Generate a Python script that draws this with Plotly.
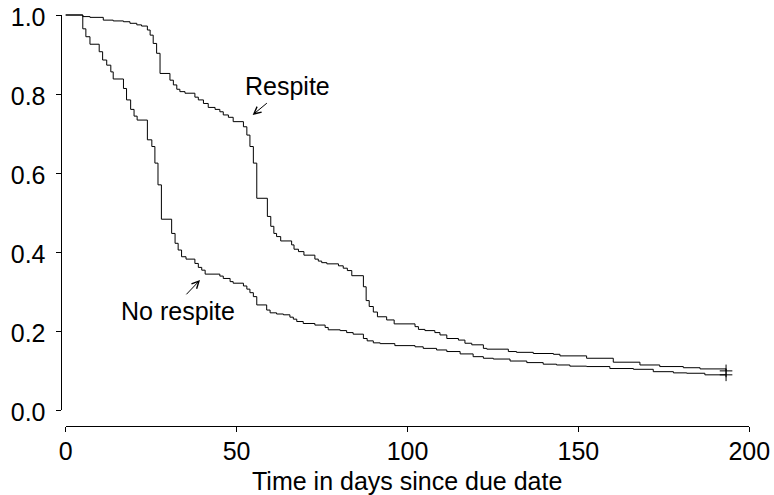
import plotly.graph_objects as go

# ---------------- data ----------------
no_respite_time = [0, 5.0, 5.9, 7.1, 9.8, 10.8, 12.0, 13.2, 13.9, 16.9, 17.8, 19.0, 20.0, 20.9,
                   23.9, 25.2, 26.1, 27.0, 28.0, 31.0, 32.0, 32.9, 33.9, 35.2, 37.8, 38.8, 39.8,
                   40.8, 45.1, 46.1, 48.1, 49.0, 52.0, 53.0, 53.9, 54.9, 55.9, 58.8, 59.8, 61.7,
                   63.7, 65.6, 66.6, 67.6, 69.5, 72.9, 75.9, 76.8, 80.3, 82.2, 84.1, 87.1, 88.2,
                   90.0, 92.0, 96.3, 102.2, 104.6, 108.5, 111.5, 115.4, 119.2, 122.2, 125.1,
                   130.0, 134.9, 139.7, 143.6, 147.5, 152.4, 159.2, 166.1, 171.9, 177.8, 181.7,
                   187.0, 193.2]
no_respite_surv = [1.0, 0.965, 0.945, 0.926, 0.907, 0.886, 0.873, 0.856, 0.838, 0.814, 0.785,
                   0.761, 0.744, 0.734, 0.684, 0.667, 0.625, 0.57, 0.483, 0.447, 0.422, 0.405,
                   0.388, 0.382, 0.371, 0.361, 0.354, 0.344, 0.339, 0.333, 0.325, 0.321, 0.314,
                   0.306, 0.297, 0.287, 0.266, 0.253, 0.246, 0.243, 0.241, 0.235, 0.23, 0.224,
                   0.219, 0.215, 0.209, 0.203, 0.201, 0.196, 0.192, 0.181, 0.175, 0.17, 0.168,
                   0.163, 0.16, 0.156, 0.152, 0.148, 0.142, 0.135, 0.131, 0.129, 0.124, 0.12,
                   0.116, 0.114, 0.111, 0.11, 0.105, 0.103, 0.097, 0.094, 0.093, 0.089, 0.089]

respite_time = [0, 5.0, 7.1, 11.0, 13.9, 16.9, 18.8, 20.8, 22.2, 23.9, 24.7, 25.6, 26.6, 27.6,
                30.5, 31.5, 32.5, 33.4, 34.9, 37.8, 38.8, 40.3, 41.7, 43.7, 45.1, 46.1, 47.6,
                49.0, 52.0, 53.0, 53.9, 54.9, 55.9, 59.0, 60.0, 60.9, 61.7, 62.9, 66.1, 66.8,
                68.1, 69.7, 72.9, 73.9, 74.9, 76.4, 79.8, 81.2, 82.4, 83.7, 87.1, 87.9, 88.8,
                90.0, 91.2, 93.9, 96.1, 102.2, 103.2, 105.1, 108.0, 109.5, 111.5, 114.9, 116.8,
                118.8, 122.2, 123.2, 129.5, 131.9, 136.8, 142.7, 144.6, 152.4, 160.2, 168.0,
                173.8, 180.7, 185.6, 193.2]
respite_surv = [1.0, 0.996, 0.994, 0.987, 0.985, 0.983, 0.979, 0.975, 0.972, 0.962, 0.949,
                0.928, 0.903, 0.852, 0.835, 0.823, 0.812, 0.806, 0.802, 0.792, 0.785, 0.776,
                0.766, 0.761, 0.755, 0.747, 0.741, 0.73, 0.717, 0.696, 0.667, 0.625, 0.536,
                0.49, 0.465, 0.447, 0.439, 0.428, 0.418, 0.407, 0.401, 0.392, 0.382, 0.377,
                0.373, 0.37, 0.365, 0.359, 0.353, 0.34, 0.312, 0.277, 0.262, 0.248, 0.236,
                0.228, 0.218, 0.211, 0.204, 0.201, 0.196, 0.19, 0.181, 0.177, 0.169, 0.165,
                0.156, 0.154, 0.148, 0.146, 0.143, 0.141, 0.137, 0.131, 0.121, 0.114, 0.11,
                0.107, 0.104, 0.099]

censor_time = [193.2, 193.2]
censor_surv = [respite_surv[-1], no_respite_surv[-1]]

x_ticks = [0, 50, 100, 150, 200]
x_tick_labels = ["0", "50", "100", "150", "200"]
y_ticks = [0.0, 0.2, 0.4, 0.6, 0.8, 1.0]
y_tick_labels = ["0.0", "0.2", "0.4", "0.6", "0.8", "1.0"]

# ---------------- layout geometry ----------------
# page pixels; the page body margin is removed by the post script below
OFF = 0
W, H = 774 - OFF, 495 - OFF
ML, MR, MT, MB = 48, 12, 10, 67
PW, PH = W - ML - MR, H - MT - MB
X0PX, X200PX = 65.7, 749.3      # page pixel of day 0 / day 200
Y0PX, Y1PX = 410.0, 15.0        # page pixel of survival 0 / 1
XAXIS_PX = 425.7                # page row of the x axis line
YAXIS_PX = 60.5                 # page column of the y axis line
pxd = (X200PX - X0PX) / 200.0
pys = (Y0PX - Y1PX) / 1.0


def fx(px):
    return (px - OFF - ML) / PW


def fy(py):
    return (H - MB - (py - OFF)) / PH


XR = [-3, 203]
YR = [-0.02, 1.01]
x_dom = [fx(X0PX + XR[0] * pxd), fx(X0PX + XR[1] * pxd)]
y_dom = [fy(Y0PX - YR[0] * pys), fy(Y0PX - YR[1] * pys)]

FONT = "Liberation Sans, Arial, Helvetica, sans-serif"
FS = 25

fig = go.Figure()
fig.add_trace(go.Scatter(x=respite_time, y=respite_surv, mode="lines",
                         line=dict(color="black", width=1, shape="hv"),
                         showlegend=False, hoverinfo="skip"))
fig.add_trace(go.Scatter(x=no_respite_time, y=no_respite_surv, mode="lines",
                         line=dict(color="black", width=1, shape="hv"),
                         showlegend=False, hoverinfo="skip"))
fig.add_trace(go.Scatter(x=censor_time, y=censor_surv, mode="markers",
                         marker=dict(symbol="cross-thin", size=9,
                                     line=dict(color="black", width=1)),
                         showlegend=False, hoverinfo="skip", cliponaxis=False))
fig.add_trace(go.Scatter(x=[None], y=[None], xaxis="x2", yaxis="y2",
                         showlegend=False, hoverinfo="skip"))

hidden = dict(showline=False, showgrid=False, zeroline=False, showticklabels=False,
              ticks="", automargin=False)
fig.update_layout(
    width=W, height=H,
    margin=dict(l=ML, r=MR, t=MT, b=MB, autoexpand=False),
    paper_bgcolor="white", plot_bgcolor="rgba(0,0,0,0)",
    font=dict(family=FONT, size=FS, color="black"),
    xaxis=dict(range=XR, domain=x_dom, anchor="y", **hidden),
    yaxis=dict(range=YR, domain=y_dom, anchor="x", **hidden),
    xaxis2=dict(range=[0, 200], domain=[fx(X0PX), fx(X200PX)], anchor="free",
                position=fy(XAXIS_PX), showline=True, linecolor="black", linewidth=1,
                ticks="outside", ticklen=5, tickwidth=1, tickcolor="black",
                tickvals=x_ticks, ticktext=x_tick_labels, showgrid=False, zeroline=False,
                tickfont=dict(family=FONT, size=FS, color="black"),
                ticklabelstandoff=-2, ticklabeloverflow="allow", automargin=False),
    yaxis2=dict(range=[0, 1], domain=[fy(Y0PX), fy(Y1PX)], anchor="free",
                position=fx(YAXIS_PX), showline=True, linecolor="black", linewidth=1,
                ticks="outside", ticklen=5, tickwidth=1, tickcolor="black",
                tickvals=y_ticks, ticktext=y_tick_labels, showgrid=False, zeroline=False,
                tickfont=dict(family=FONT, size=FS, color="black"),
                ticklabelstandoff=5, ticklabelshift=2, ticklabeloverflow="allow",
                automargin=False),
)

# axis title
fig.add_annotation(x=100, y=fy(481), xref="x", yref="paper", text="Time in days since due date",
                   showarrow=False, xanchor="center", yanchor="middle",
                   font=dict(family=FONT, size=FS, color="black"))

# curve labels and arrows
fig.add_annotation(x=64.9, y=0.819, text="Respite", showarrow=False,
                   xref="x", yref="y", font=dict(family=FONT, size=FS, color="black"))
fig.add_annotation(x=54.7, y=0.747, ax=59.3, ay=0.78, axref="x", ayref="y",
                   xref="x", yref="y", text="", showarrow=True, arrowhead=5,
                   arrowsize=1.4, arrowwidth=1, arrowcolor="black", standoff=0)
fig.add_annotation(x=32.9, y=0.251, text="No respite", showarrow=False,
                   xref="x", yref="y", font=dict(family=FONT, size=FS, color="black"))
fig.add_annotation(x=39.3, y=0.329, ax=34.9, ay=0.289, axref="x", ayref="y",
                   xref="x", yref="y", text="", showarrow=True, arrowhead=5,
                   arrowsize=1.4, arrowwidth=1, arrowcolor="black", standoff=0)

fig.write_html("out.html",
               config={"displayModeBar": False},
               post_script="document.body.style.margin='0';document.body.style.overflow='hidden';")
